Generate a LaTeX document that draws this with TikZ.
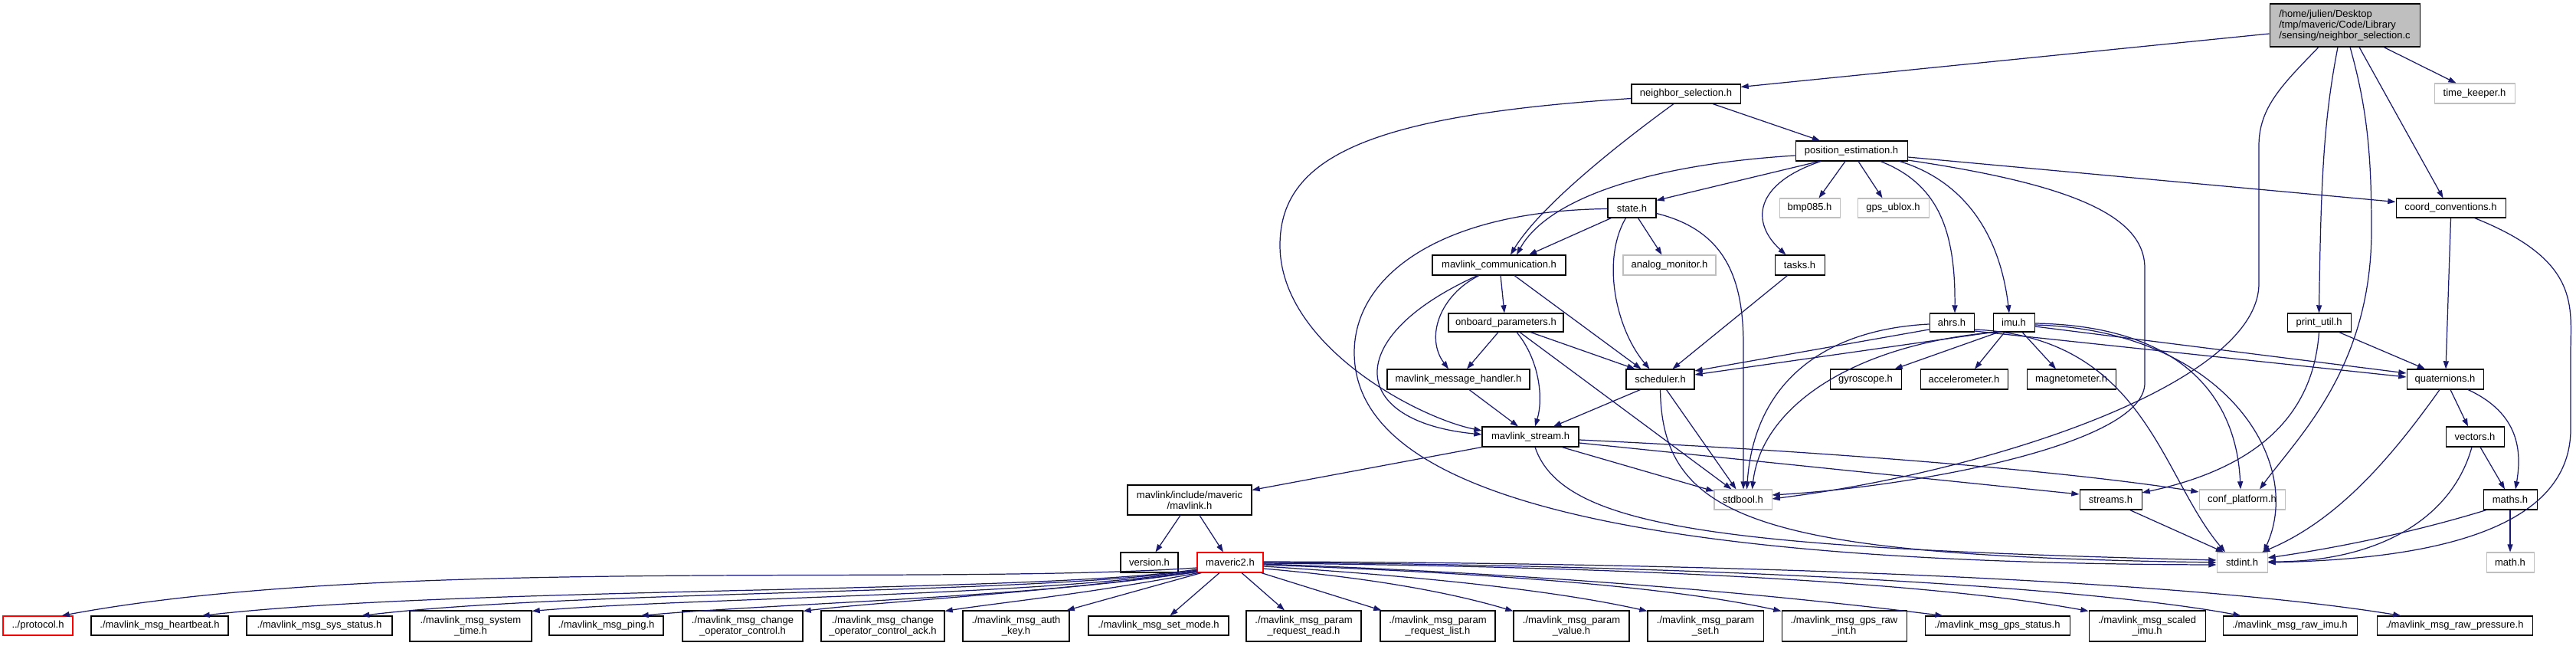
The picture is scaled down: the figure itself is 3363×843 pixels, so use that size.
\documentclass[tikz,border=0pt]{standalone}
\usepackage{fontspec}
\setmainfont{Liberation Sans}
\usetikzlibrary{arrows.meta,calc}
\definecolor{edgeblue}{HTML}{191970}
\definecolor{grayline}{HTML}{BFBFBF}
\definecolor{grayfill}{HTML}{BFBFBF}
\definecolor{redline}{HTML}{FF0000}
\begin{document}
\begin{tikzpicture}[x=0.01cm,y=-0.01cm,
  box/.style={draw=black,line width=0.3pt,inner sep=0pt,align=center,font=\fontsize{3.7}{4}\selectfont},
  extbox/.style={box,draw=grayline},
  redbox/.style={box,draw=redline},
  topbox/.style={box,fill=grayfill,align=left},
  sz/.style 2 args={minimum width=#1*0.01cm,minimum height=#2*0.01cm},
  dep/.style={draw=edgeblue,line width=0.35pt,-{Triangle[length=2.9pt,width=2pt]}}]
\fill[white] (0,0) rectangle (3363,843);
\useasboundingbox (0,0) rectangle (3363,843);
% ---------- nodes ----------
\node[topbox,sz={196}{56}] (n0) at (3061,33) {/home/julien/Desktop\\/tmp/maveric/Code/Library\\/sensing/neighbor\_selection.c};
\node[extbox,sz={105}{26}] (tk) at (3230.5,122) {time\_keeper.h};
\node[box,sz={142}{25}] (nsel) at (2201,122.5) {neighbor\_selection.h};
\node[box,sz={146}{26}] (pe) at (2417,197) {position\_estimation.h};
\node[box,sz={63}{25}] (st) at (2130.5,271.5) {state.h};
\node[extbox,sz={79}{25}] (bmp) at (2362.5,271.5) {bmp085.h};
\node[extbox,sz={93}{25}] (gps) at (2471.5,271.5) {gps\_ublox.h};
\node[box,sz={143}{25}] (cc) at (3199.5,271.5) {coord\_conventions.h};
\node[box,sz={174}{26}] (mc) at (1957,346) {mavlink\_communication.h};
\node[extbox,sz={121}{26}] (am) at (2179.5,346) {analog\_monitor.h};
\node[box,sz={65}{26}] (ta) at (2349.5,346) {tasks.h};
\node[box,sz={150}{24}] (ob) at (1966,421) {onboard\_parameters.h};
\node[box,sz={58}{24}] (ah) at (2548,421) {ahrs.h};
\node[box,sz={54}{24}] (im) at (2629,421) {imu.h};
\node[box,sz={83}{24}] (pu) at (3027.5,421) {print\_util.h};
\node[box,sz={186}{26}] (mh) at (1904,495) {mavlink\_message\_handler.h};
\node[box,sz={89}{26}] (sc) at (2167.5,495) {scheduler.h};
\node[box,sz={93}{26}] (gy) at (2435.5,495) {gyroscope.h};
\node[box,sz={114}{26}] (ac) at (2564,495) {accelerometer.h};
\node[box,sz={116}{26}] (mg) at (2704,495) {magnetometer.h};
\node[box,sz={100}{26}] (qu) at (3192,495) {quaternions.h};
\node[box,sz={126}{26}] (ms) at (1998,570) {mavlink\_stream.h};
\node[box,sz={76}{26}] (ve) at (3231,570) {vectors.h};
\node[extbox,sz={75}{26}] (sb) at (2275.5,652) {stdbool.h};
\node[box,sz={81}{26}] (sr) at (2755.5,652) {streams.h};
\node[extbox,sz={112}{26}] (cp) at (2927,652) {conf\_platform.h};
\node[box,sz={70}{26}] (mt) at (3277,652) {maths.h};
\node[box,sz={162}{39}] (ml) at (1553,652.5) {mavlink/include/maveric\\/mavlink.h};
\node[box,sz={75}{26}] (vn) at (1500.5,734) {version.h};
\node[redbox,sz={86}{26}] (m2) at (1606,734) {maveric2.h};
\node[extbox,sz={66}{26}] (si) at (2927,734) {stdint.h};
\node[extbox,sz={62}{26}] (ma) at (3277,734) {math.h};
% bottom row
\node[redbox,sz={91}{25}] (b1) at (49.5,816.5) {../protocol.h};
\node[box,sz={179}{25}] (b2) at (208.5,816.5) {./mavlink\_msg\_heartbeat.h};
\node[box,sz={190}{25}] (b3) at (417,816.5) {./mavlink\_msg\_sys\_status.h};
\node[box,sz={159}{40}] (b4) at (614.5,817) {./mavlink\_msg\_system\\\_time.h};
\node[box,sz={149}{25}] (b5) at (791.5,816.5) {./mavlink\_msg\_ping.h};
\node[box,sz={157}{40}] (b6) at (969.5,817) {./mavlink\_msg\_change\\\_operator\_control.h};
\node[box,sz={161}{40}] (b7) at (1152.5,817) {./mavlink\_msg\_change\\\_operator\_control\_ack.h};
\node[box,sz={139}{40}] (b8) at (1326.5,817) {./mavlink\_msg\_auth\\\_key.h};
\node[box,sz={183}{25}] (b9) at (1512.5,816.5) {./mavlink\_msg\_set\_mode.h};
\node[box,sz={150}{40}] (b10) at (1702,817) {./mavlink\_msg\_param\\\_request\_read.h};
\node[box,sz={150}{40}] (b11) at (1877,817) {./mavlink\_msg\_param\\\_request\_list.h};
\node[box,sz={151}{40}] (b12) at (2051.5,817) {./mavlink\_msg\_param\\\_value.h};
\node[box,sz={151}{40}] (b13) at (2226.5,817) {./mavlink\_msg\_param\\\_set.h};
\node[box,sz={163}{40}] (b14) at (2407.5,817) {./mavlink\_msg\_gps\_raw\\\_int.h};
\node[box,sz={189}{25}] (b15) at (2607.5,816.5) {./mavlink\_msg\_gps\_status.h};
\node[box,sz={152}{40}] (b16) at (2803,817) {./mavlink\_msg\_scaled\\\_imu.h};
\node[box,sz={175}{25}] (b17) at (2989.5,816.5) {./mavlink\_msg\_raw\_imu.h};
\node[box,sz={203}{25}] (b18) at (3204.5,816.5) {./mavlink\_msg\_raw\_pressure.h};
% ---------- edges ----------
% top node
\draw[dep] ($(n0.west)+(0,11)$) -- ($(nsel.east)+(0,-9)$);
\draw[dep] ($(n0.south)+(51,0)$) -- ($(tk.north)+(-24,0)$);
\draw[dep] ($(n0.south)+(19,0)$) -- ($(cc.north)+(-10,0)$);
\draw[dep] ($(n0.south)+(-34,0)$) .. controls (2980,110) and (2949,140) .. (2949,190) -- (2949,370) .. controls (2949,500) and (2600,615) .. ($(sb.east)+(0,-1)$);
\draw[dep] ($(n0.south)+(-9,0)$) .. controls (3035,150) and (3030,220) .. (pu.north);
\draw[dep] ($(n0.south)+(7,0)$) .. controls (3090,140) and (3096,200) .. (3096,300) .. controls (3096,480) and (3000,570) .. ($(cp.north)+(23,0)$);
% neighbor_selection.h
\draw[dep] ($(nsel.south)+(35,0)$) -- ($(pe.north)+(-41,0)$);
\draw[dep] ($(nsel.south)+(-16,0)$) .. controls (2110,190) and (2010,270) .. ($(mc.north)+(15,0)$);
\draw[dep] ($(nsel.west)+(0,6)$) .. controls (1800,150) and (1671,200) .. (1671,320) .. controls (1671,450) and (1850,545) .. ($(ms.west)+(0,-8)$);
% position_estimation.h
\draw[dep] ($(pe.south)+(-42,0)$) -- ($(st.east)+(0,-10)$);
\draw[dep] ($(pe.west)+(0,6)$) .. controls (2150,215) and (2020,260) .. ($(mc.north)+(23,0)$);
\draw[dep] ($(pe.south)+(-8,0)$) -- ($(bmp.north)+(12,0)$);
\draw[dep] ($(pe.south)+(9,0)$) -- ($(gps.north)+(-14,0)$);
\draw[dep] ($(pe.south)+(-40,0)$) .. controls (2290,240) and (2285,290) .. ($(ta.north)+(-18,0)$);
\draw[dep] ($(pe.south)+(38,0)$) .. controls (2530,240) and (2553,300) .. ($(ah.north)+(4,0)$);
\draw[dep] ($(pe.south)+(63,0)$) .. controls (2560,235) and (2610,300) .. ($(im.north)+(-6,0)$);
\draw[dep] ($(pe.east)+(0,8)$) -- ($(cc.west)+(0,-8)$);
\draw[dep] ($(pe.east)+(0,12)$) .. controls (2700,240) and (2800,280) .. (2800,350) -- (2800,500) .. controls (2800,580) and (2500,635) .. ($(sb.east)+(0,-6)$);
% state.h
\draw[dep] ($(st.south)+(-27,0)$) -- ($(mc.north)+(39,0)$);
\draw[dep] ($(st.south)+(8,0)$) -- ($(am.north)+(-10,0)$);
\draw[dep] ($(st.south)+(-8,0)$) .. controls (2090,340) and (2110,430) .. ($(sc.north)+(-14,0)$);
\draw[dep] ($(st.east)+(0,7)$) .. controls (2250,300) and (2276,360) .. (2276,450) -- ($(sb.north)+(0.5,0)$);
\draw[dep] ($(st.west)+(0,1)$) .. controls (1880,275) and (1768,360) .. (1768,460) .. controls (1768,640) and (2100,735) .. ($(si.west)+(0,3)$);
% mavlink_communication.h
\draw[dep] ($(mc.south)+(2,0)$) -- ($(ob.north)+(-2,0)$);
\draw[dep] ($(mc.south)+(-26,0)$) .. controls (1880,385) and (1860,440) .. ($(mh.north)+(-13,0)$);
\draw[dep] ($(mc.south)+(-28,0)$) .. controls (1750,440) and (1760,550) .. ($(ms.west)+(0,-3)$);
\draw[dep] ($(mc.south)+(20,0)$) -- ($(sc.north)+(-25,0)$);
% onboard_parameters.h
\draw[dep] ($(ob.south)+(-10,0)$) -- ($(mh.north)+(11,0)$);
\draw[dep] ($(ob.south)+(14,0)$) .. controls (2010,470) and (2015,520) .. ($(ms.north)+(6,0)$);
\draw[dep] ($(ob.south)+(32,0)$) -- ($(sc.north)+(-33,0)$);
\draw[dep] ($(ob.south)+(18,0)$) -- ($(sb.north)+(-15,0)$);
% message handler, scheduler, tasks
\draw[dep] ($(mh.south)+(14,0)$) -- ($(ms.north)+(-16,0)$);
\draw[dep] ($(sc.south)+(-26,0)$) -- ($(ms.north)+(30,0)$);
\draw[dep] ($(sc.south)+(8,0)$) -- ($(sb.north)+(-9,0)$);
\draw[dep] (sc.south) .. controls (2170,680) and (2300,725) .. (si.west);
\draw[dep] ($(ta.south)+(-16,0)$) -- ($(sc.north)+(16,0)$);
% mavlink_stream.h
\draw[dep] (ms.south west) -- ($(ml.east)+(0,-13)$);
\draw[dep] ($(ms.south)+(41,0)$) -- ($(sb.west)+(0,-11)$);
\draw[dep] ($(ms.south)+(6,0)$) .. controls (2040,690) and (2250,715) .. ($(si.west)+(0,-3)$);
\draw[dep] ($(ms.east)+(0,8)$) -- ($(sr.west)+(0,-7)$);
\draw[dep] ($(ms.east)+(0,4)$) .. controls (2400,590) and (2700,615) .. ($(cp.west)+(0,-10)$);
% ahrs.h
\draw[dep] ($(ah.west)+(0,9)$) -- ($(sc.east)+(0,-11)$);
\draw[dep] ($(ah.west)+(0,2)$) .. controls (2380,430) and (2290,500) .. ($(sb.north)+(5,0)$);
\draw[dep] ($(ah.east)+(0,11)$) -- ($(qu.west)+(0,-3)$);
\draw[dep] ($(ah.east)+(0,9)$) .. controls (2800,440) and (2820,620) .. ($(si.north)+(-22,0)$);
% imu.h
\draw[dep] ($(im.south west)+(2,0)$) .. controls (2420,450) and (2300,530) .. ($(sb.north)+(12,0)$);
\draw[dep] (im.south west) -- ($(sc.east)+(0,-6)$);
\draw[dep] ($(im.south)+(-20,0)$) -- ($(gy.north)+(38,0)$);
\draw[dep] ($(im.south)+(-12,0)$) -- ($(ac.north)+(14,0)$);
\draw[dep] ($(im.south)+(11,0)$) -- ($(mg.north)+(-20,0)$);
\draw[dep] ($(im.east)+(0,5)$) -- ($(qu.west)+(0,-8)$);
\draw[dep] ($(im.east)+(0,1)$) .. controls (2850,425) and (2920,520) .. ($(cp.north)+(-2,0)$);
\draw[dep] ($(im.east)+(0,3)$) .. controls (2900,430) and (3010,600) .. ($(si.north)+(28,0)$);
% print_util.h, coord_conventions.h
\draw[dep] ($(pu.south)+(26,0)$) -- ($(qu.north)+(-26,0)$);
\draw[dep] (pu.south) .. controls (3020,540) and (2950,610) .. ($(sr.east)+(0,-9)$);
\draw[dep] (cc.south) -- ($(qu.north)+(1,0)$);
\draw[dep] ($(cc.south)+(31,0)$) .. controls (3370,340) and (3356,400) .. (3356,460) -- (3356,560) .. controls (3356,700) and (3150,730) .. (si.east);
% quaternions, vectors, maths, streams
\draw[dep] ($(qu.south)+(7,0)$) -- ($(ve.north)+(-9,0)$);
\draw[dep] ($(qu.south)+(30,0)$) .. controls (3290,540) and (3292,590) .. ($(mt.north)+(7,0)$);
\draw[dep] ($(qu.south)+(-7,0)$) .. controls (3120,600) and (3050,680) .. ($(si.north)+(26,0)$);
\draw[dep] ($(ve.south)+(7,0)$) -- ($(mt.north)+(-7,0)$);
\draw[dep] ($(ve.south)+(-4,0)$) .. controls (3200,680) and (3100,733) .. ($(si.east)+(0,-1)$);
\draw[dep] ($(mt.south)+(-31,0)$) .. controls (3150,695) and (3050,715) .. ($(si.east)+(0,-6)$);
\draw[dep] (mt.south) -- (ma.north);
\draw[dep] ($(sr.south)+(25,0)$) -- ($(si.north)+(-24,0)$);
% mavlink.h
\draw[dep] ($(ml.south)+(-12,0)$) -- ($(vn.north)+(8,0)$);
\draw[dep] ($(ml.south)+(13,0)$) -- ($(m2.north)+(-9,0)$);
% maveric2.h fan-out
\draw[dep] ($(m2.west)+(0,7)$) .. controls (1200,765) and (500,725) .. ($(b1.north)+(31,0)$);
\draw[dep] ($(m2.west)+(0,9)$) .. controls (1350,775) and (600,765) .. ($(b2.north)+(55,0)$);
\draw[dep] ($(m2.west)+(0,10)$) .. controls (1350,776) and (750,770) .. ($(b3.north)+(55,0)$);
\draw[dep] ($(m2.west)+(0,11)$) .. controls (1350,778) and (900,780) .. ($(b4.north east)+(0,1)$);
\draw[dep] ($(m2.west)+(0,12)$) .. controls (1350,780) and (1000,788) .. ($(b5.north)+(45,0)$);
\draw[dep] ($(m2.south west)+(0,-1)$) .. controls (1350,775) and (1150,785) .. ($(b6.north east)+(0,1)$);
\draw[dep] ($(m2.south west)+(2,0)$) .. controls (1420,775) and (1300,787) .. ($(b7.north east)+(0,1)$);
\draw[dep] ($(m2.south west)+(6,0)$) -- ($(b8.north east)+(-4,0)$);
\draw[dep] ($(m2.south)+(-14,0)$) -- ($(b9.north)+(15,0)$);
\draw[dep] ($(m2.south)+(15,0)$) -- ($(b10.north)+(-25,0)$);
\draw[dep] ($(m2.south east)+(-3,0)$) -- ($(b11.north west)+(2,0)$);
\draw[dep] ($(m2.east)+(0,8)$) .. controls (1800,755) and (1900,775) .. ($(b12.north west)+(0,1)$);
\draw[dep] ($(m2.east)+(0,5)$) .. controls (1900,755) and (2050,775) .. ($(b13.north west)+(0,1)$);
\draw[dep] ($(m2.east)+(0,3)$) .. controls (2000,750) and (2200,770) .. ($(b14.north west)+(0,1)$);
\draw[dep] ($(m2.east)+(0,2)$) .. controls (2050,750) and (2350,780) .. ($(b15.north)+(-71,0)$);
\draw[dep] ($(m2.east)+(0,1)$) .. controls (2200,740) and (2550,765) .. ($(b16.north west)+(0,1)$);
\draw[dep] ($(m2.east)+(0,0)$) .. controls (2300,738) and (2750,770) .. ($(b17.north)+(-64,0)$);
\draw[dep] ($(m2.east)+(0,-1)$) .. controls (2400,735) and (2900,765) .. ($(b18.north)+(-70,0)$);
\end{tikzpicture}
\end{document}
